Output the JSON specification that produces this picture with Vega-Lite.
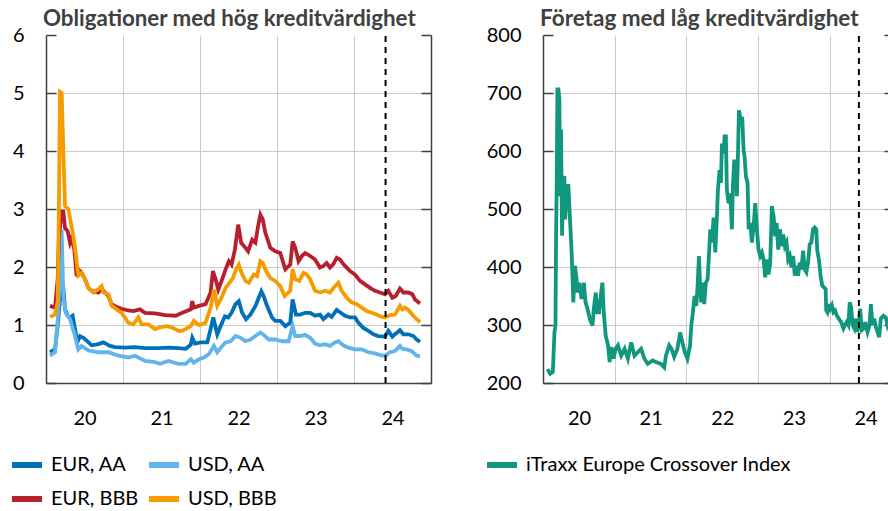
{
  "$schema": "https://vega.github.io/schema/vega-lite/v6.json",
  "padding": {"left": 9, "top": 7, "right": 0, "bottom": 0},
  "spacing": 52,
  "config": {
    "view": {"stroke": null},
    "font": "Lato",
    "axis": {"labelFont": "Lato", "labelFontSize": 20, "labelColor": "#000000", "domainColor": "#404040", "domainWidth": 1.5, "tickColor": "#404040", "tickWidth": 1.5, "gridColor": "#cbcbcb", "gridWidth": 1, "title": null},
    "legend": {"labelFont": "Lato", "labelFontSize": 20, "labelColor": "#000000", "labelLimit": 500, "symbolType": "stroke", "symbolStrokeWidth": 6, "symbolSize": 900, "rowPadding": 4, "columnPadding": -2, "labelOffset": 6}
  },
  "datasets": {
    "hi": [
      {"t":2020.052,"s":"EUR, AA","v":0.53},{"t":2020.117,"s":"EUR, AA","v":0.58},{"t":2020.16,"s":"EUR, AA","v":1.1},{"t":2020.195,"s":"EUR, AA","v":1.64},{"t":2020.225,"s":"EUR, AA","v":1.64},{"t":2020.247,"s":"EUR, AA","v":1.27},{"t":2020.281,"s":"EUR, AA","v":1.16},{"t":2020.312,"s":"EUR, AA","v":1.13},{"t":2020.346,"s":"EUR, AA","v":1.16},{"t":2020.377,"s":"EUR, AA","v":0.93},{"t":2020.407,"s":"EUR, AA","v":0.7},{"t":2020.442,"s":"EUR, AA","v":0.81},{"t":2020.485,"s":"EUR, AA","v":0.78},{"t":2020.528,"s":"EUR, AA","v":0.73},{"t":2020.593,"s":"EUR, AA","v":0.65},{"t":2020.68,"s":"EUR, AA","v":0.67},{"t":2020.745,"s":"EUR, AA","v":0.7},{"t":2020.788,"s":"EUR, AA","v":0.67},{"t":2020.831,"s":"EUR, AA","v":0.64},{"t":2020.896,"s":"EUR, AA","v":0.62},{"t":2021.026,"s":"EUR, AA","v":0.61},{"t":2021.156,"s":"EUR, AA","v":0.62},{"t":2021.286,"s":"EUR, AA","v":0.6},{"t":2021.459,"s":"EUR, AA","v":0.6},{"t":2021.589,"s":"EUR, AA","v":0.61},{"t":2021.719,"s":"EUR, AA","v":0.6},{"t":2021.815,"s":"EUR, AA","v":0.59},{"t":2021.88,"s":"EUR, AA","v":0.66},{"t":2021.9,"s":"EUR, AA","v":0.78},{"t":2021.935,"s":"EUR, AA","v":0.68},{"t":2022.009,"s":"EUR, AA","v":0.7},{"t":2022.095,"s":"EUR, AA","v":0.7},{"t":2022.138,"s":"EUR, AA","v":0.93},{"t":2022.172,"s":"EUR, AA","v":1.13},{"t":2022.224,"s":"EUR, AA","v":0.84},{"t":2022.267,"s":"EUR, AA","v":0.98},{"t":2022.323,"s":"EUR, AA","v":1.15},{"t":2022.366,"s":"EUR, AA","v":1.13},{"t":2022.41,"s":"EUR, AA","v":1.21},{"t":2022.461,"s":"EUR, AA","v":1.36},{"t":2022.504,"s":"EUR, AA","v":1.41},{"t":2022.547,"s":"EUR, AA","v":1.21},{"t":2022.599,"s":"EUR, AA","v":1.1},{"t":2022.655,"s":"EUR, AA","v":1.18},{"t":2022.72,"s":"EUR, AA","v":1.33},{"t":2022.754,"s":"EUR, AA","v":1.44},{"t":2022.797,"s":"EUR, AA","v":1.58},{"t":2022.828,"s":"EUR, AA","v":1.49},{"t":2022.871,"s":"EUR, AA","v":1.33},{"t":2022.935,"s":"EUR, AA","v":1.13},{"t":2022.978,"s":"EUR, AA","v":1.07},{"t":2023.043,"s":"EUR, AA","v":1.07},{"t":2023.108,"s":"EUR, AA","v":0.98},{"t":2023.172,"s":"EUR, AA","v":1.04},{"t":2023.203,"s":"EUR, AA","v":1.44},{"t":2023.246,"s":"EUR, AA","v":1.18},{"t":2023.302,"s":"EUR, AA","v":1.18},{"t":2023.366,"s":"EUR, AA","v":1.21},{"t":2023.431,"s":"EUR, AA","v":1.21},{"t":2023.494,"s":"EUR, AA","v":1.16},{"t":2023.558,"s":"EUR, AA","v":1.18},{"t":2023.602,"s":"EUR, AA","v":1.1},{"t":2023.667,"s":"EUR, AA","v":1.18},{"t":2023.71,"s":"EUR, AA","v":1.14},{"t":2023.775,"s":"EUR, AA","v":1.26},{"t":2023.818,"s":"EUR, AA","v":1.22},{"t":2023.883,"s":"EUR, AA","v":1.16},{"t":2023.948,"s":"EUR, AA","v":1.13},{"t":2024.013,"s":"EUR, AA","v":1.13},{"t":2024.056,"s":"EUR, AA","v":1.04},{"t":2024.121,"s":"EUR, AA","v":0.95},{"t":2024.186,"s":"EUR, AA","v":0.9},{"t":2024.251,"s":"EUR, AA","v":0.84},{"t":2024.316,"s":"EUR, AA","v":0.81},{"t":2024.403,"s":"EUR, AA","v":0.8},{"t":2024.446,"s":"EUR, AA","v":0.9},{"t":2024.498,"s":"EUR, AA","v":0.8},{"t":2024.532,"s":"EUR, AA","v":0.84},{"t":2024.597,"s":"EUR, AA","v":0.91},{"t":2024.641,"s":"EUR, AA","v":0.84},{"t":2024.706,"s":"EUR, AA","v":0.84},{"t":2024.771,"s":"EUR, AA","v":0.81},{"t":2024.814,"s":"EUR, AA","v":0.75},{"t":2024.857,"s":"EUR, AA","v":0.71},

      {"t":2020.052,"s":"USD, AA","v":0.47},{"t":2020.117,"s":"USD, AA","v":0.53},{"t":2020.16,"s":"USD, AA","v":1.21},{"t":2020.182,"s":"USD, AA","v":2.0},{"t":2020.2035,"s":"USD, AA","v":2.64},{"t":2020.225,"s":"USD, AA","v":1.5},{"t":2020.255,"s":"USD, AA","v":1.21},{"t":2020.312,"s":"USD, AA","v":1.1},{"t":2020.377,"s":"USD, AA","v":0.81},{"t":2020.42,"s":"USD, AA","v":0.58},{"t":2020.463,"s":"USD, AA","v":0.64},{"t":2020.55,"s":"USD, AA","v":0.56},{"t":2020.68,"s":"USD, AA","v":0.53},{"t":2020.81,"s":"USD, AA","v":0.53},{"t":2020.94,"s":"USD, AA","v":0.47},{"t":2021.069,"s":"USD, AA","v":0.44},{"t":2021.156,"s":"USD, AA","v":0.47},{"t":2021.286,"s":"USD, AA","v":0.38},{"t":2021.416,"s":"USD, AA","v":0.36},{"t":2021.48,"s":"USD, AA","v":0.33},{"t":2021.589,"s":"USD, AA","v":0.38},{"t":2021.719,"s":"USD, AA","v":0.33},{"t":2021.815,"s":"USD, AA","v":0.33},{"t":2021.88,"s":"USD, AA","v":0.41},{"t":2021.92,"s":"USD, AA","v":0.35},{"t":2021.987,"s":"USD, AA","v":0.41},{"t":2022.05,"s":"USD, AA","v":0.44},{"t":2022.116,"s":"USD, AA","v":0.5},{"t":2022.181,"s":"USD, AA","v":0.64},{"t":2022.224,"s":"USD, AA","v":0.53},{"t":2022.289,"s":"USD, AA","v":0.64},{"t":2022.332,"s":"USD, AA","v":0.7},{"t":2022.397,"s":"USD, AA","v":0.72},{"t":2022.461,"s":"USD, AA","v":0.81},{"t":2022.526,"s":"USD, AA","v":0.78},{"t":2022.59,"s":"USD, AA","v":0.72},{"t":2022.655,"s":"USD, AA","v":0.75},{"t":2022.72,"s":"USD, AA","v":0.81},{"t":2022.784,"s":"USD, AA","v":0.87},{"t":2022.828,"s":"USD, AA","v":0.83},{"t":2022.892,"s":"USD, AA","v":0.75},{"t":2022.978,"s":"USD, AA","v":0.75},{"t":2023.065,"s":"USD, AA","v":0.72},{"t":2023.151,"s":"USD, AA","v":0.72},{"t":2023.203,"s":"USD, AA","v":0.98},{"t":2023.237,"s":"USD, AA","v":0.81},{"t":2023.302,"s":"USD, AA","v":0.81},{"t":2023.366,"s":"USD, AA","v":0.83},{"t":2023.431,"s":"USD, AA","v":0.78},{"t":2023.494,"s":"USD, AA","v":0.68},{"t":2023.558,"s":"USD, AA","v":0.65},{"t":2023.623,"s":"USD, AA","v":0.67},{"t":2023.688,"s":"USD, AA","v":0.64},{"t":2023.753,"s":"USD, AA","v":0.7},{"t":2023.797,"s":"USD, AA","v":0.72},{"t":2023.861,"s":"USD, AA","v":0.65},{"t":2023.926,"s":"USD, AA","v":0.61},{"t":2024.013,"s":"USD, AA","v":0.58},{"t":2024.1,"s":"USD, AA","v":0.58},{"t":2024.186,"s":"USD, AA","v":0.53},{"t":2024.273,"s":"USD, AA","v":0.51},{"t":2024.338,"s":"USD, AA","v":0.48},{"t":2024.403,"s":"USD, AA","v":0.47},{"t":2024.468,"s":"USD, AA","v":0.53},{"t":2024.532,"s":"USD, AA","v":0.55},{"t":2024.597,"s":"USD, AA","v":0.64},{"t":2024.628,"s":"USD, AA","v":0.59},{"t":2024.684,"s":"USD, AA","v":0.58},{"t":2024.749,"s":"USD, AA","v":0.55},{"t":2024.814,"s":"USD, AA","v":0.47},{"t":2024.857,"s":"USD, AA","v":0.46},

      {"t":2020.052,"s":"EUR, BBB","v":1.33},{"t":2020.117,"s":"EUR, BBB","v":1.3},{"t":2020.152,"s":"EUR, BBB","v":1.79},{"t":2020.169,"s":"EUR, BBB","v":2.53},{"t":2020.2035,"s":"EUR, BBB","v":2.96},{"t":2020.225,"s":"EUR, BBB","v":2.96},{"t":2020.247,"s":"EUR, BBB","v":2.67},{"t":2020.281,"s":"EUR, BBB","v":2.62},{"t":2020.312,"s":"EUR, BBB","v":2.42},{"t":2020.333,"s":"EUR, BBB","v":2.5},{"t":2020.368,"s":"EUR, BBB","v":2.3},{"t":2020.398,"s":"EUR, BBB","v":1.84},{"t":2020.42,"s":"EUR, BBB","v":1.96},{"t":2020.463,"s":"EUR, BBB","v":1.9},{"t":2020.506,"s":"EUR, BBB","v":1.79},{"t":2020.55,"s":"EUR, BBB","v":1.64},{"t":2020.593,"s":"EUR, BBB","v":1.59},{"t":2020.68,"s":"EUR, BBB","v":1.56},{"t":2020.723,"s":"EUR, BBB","v":1.62},{"t":2020.766,"s":"EUR, BBB","v":1.56},{"t":2020.81,"s":"EUR, BBB","v":1.5},{"t":2020.853,"s":"EUR, BBB","v":1.36},{"t":2020.918,"s":"EUR, BBB","v":1.31},{"t":2020.983,"s":"EUR, BBB","v":1.28},{"t":2021.069,"s":"EUR, BBB","v":1.25},{"t":2021.134,"s":"EUR, BBB","v":1.24},{"t":2021.22,"s":"EUR, BBB","v":1.27},{"t":2021.286,"s":"EUR, BBB","v":1.21},{"t":2021.416,"s":"EUR, BBB","v":1.2},{"t":2021.545,"s":"EUR, BBB","v":1.17},{"t":2021.685,"s":"EUR, BBB","v":1.16},{"t":2021.77,"s":"EUR, BBB","v":1.21},{"t":2021.88,"s":"EUR, BBB","v":1.27},{"t":2021.9,"s":"EUR, BBB","v":1.41},{"t":2021.92,"s":"EUR, BBB","v":1.3},{"t":2021.987,"s":"EUR, BBB","v":1.33},{"t":2022.073,"s":"EUR, BBB","v":1.36},{"t":2022.138,"s":"EUR, BBB","v":1.56},{"t":2022.168,"s":"EUR, BBB","v":1.93},{"t":2022.203,"s":"EUR, BBB","v":1.79},{"t":2022.237,"s":"EUR, BBB","v":1.61},{"t":2022.289,"s":"EUR, BBB","v":1.79},{"t":2022.332,"s":"EUR, BBB","v":1.96},{"t":2022.375,"s":"EUR, BBB","v":2.1},{"t":2022.41,"s":"EUR, BBB","v":2.04},{"t":2022.453,"s":"EUR, BBB","v":2.3},{"t":2022.496,"s":"EUR, BBB","v":2.73},{"t":2022.534,"s":"EUR, BBB","v":2.42},{"t":2022.59,"s":"EUR, BBB","v":2.33},{"t":2022.625,"s":"EUR, BBB","v":2.27},{"t":2022.677,"s":"EUR, BBB","v":2.47},{"t":2022.72,"s":"EUR, BBB","v":2.42},{"t":2022.754,"s":"EUR, BBB","v":2.7},{"t":2022.784,"s":"EUR, BBB","v":2.9},{"t":2022.815,"s":"EUR, BBB","v":2.82},{"t":2022.849,"s":"EUR, BBB","v":2.59},{"t":2022.914,"s":"EUR, BBB","v":2.33},{"t":2022.978,"s":"EUR, BBB","v":2.27},{"t":2023.043,"s":"EUR, BBB","v":2.24},{"t":2023.108,"s":"EUR, BBB","v":1.96},{"t":2023.172,"s":"EUR, BBB","v":2.04},{"t":2023.203,"s":"EUR, BBB","v":2.44},{"t":2023.237,"s":"EUR, BBB","v":2.33},{"t":2023.28,"s":"EUR, BBB","v":2.1},{"t":2023.323,"s":"EUR, BBB","v":2.19},{"t":2023.366,"s":"EUR, BBB","v":2.24},{"t":2023.431,"s":"EUR, BBB","v":2.19},{"t":2023.494,"s":"EUR, BBB","v":2.13},{"t":2023.558,"s":"EUR, BBB","v":1.99},{"t":2023.602,"s":"EUR, BBB","v":2.02},{"t":2023.645,"s":"EUR, BBB","v":2.07},{"t":2023.688,"s":"EUR, BBB","v":1.99},{"t":2023.732,"s":"EUR, BBB","v":2.05},{"t":2023.775,"s":"EUR, BBB","v":2.16},{"t":2023.818,"s":"EUR, BBB","v":2.13},{"t":2023.861,"s":"EUR, BBB","v":2.05},{"t":2023.905,"s":"EUR, BBB","v":1.99},{"t":2023.948,"s":"EUR, BBB","v":1.93},{"t":2024.013,"s":"EUR, BBB","v":1.87},{"t":2024.078,"s":"EUR, BBB","v":1.76},{"t":2024.143,"s":"EUR, BBB","v":1.7},{"t":2024.208,"s":"EUR, BBB","v":1.64},{"t":2024.273,"s":"EUR, BBB","v":1.59},{"t":2024.338,"s":"EUR, BBB","v":1.56},{"t":2024.403,"s":"EUR, BBB","v":1.53},{"t":2024.446,"s":"EUR, BBB","v":1.59},{"t":2024.498,"s":"EUR, BBB","v":1.47},{"t":2024.541,"s":"EUR, BBB","v":1.5},{"t":2024.597,"s":"EUR, BBB","v":1.63},{"t":2024.641,"s":"EUR, BBB","v":1.56},{"t":2024.706,"s":"EUR, BBB","v":1.56},{"t":2024.758,"s":"EUR, BBB","v":1.53},{"t":2024.792,"s":"EUR, BBB","v":1.44},{"t":2024.857,"s":"EUR, BBB","v":1.37},

      {"t":2020.052,"s":"USD, BBB","v":1.14},{"t":2020.117,"s":"USD, BBB","v":1.18},{"t":2020.152,"s":"USD, BBB","v":1.4},{"t":2020.169,"s":"USD, BBB","v":3.2},{"t":2020.182,"s":"USD, BBB","v":5.02},{"t":2020.2035,"s":"USD, BBB","v":5.0},{"t":2020.225,"s":"USD, BBB","v":4.0},{"t":2020.247,"s":"USD, BBB","v":3.05},{"t":2020.29,"s":"USD, BBB","v":3.0},{"t":2020.325,"s":"USD, BBB","v":2.75},{"t":2020.355,"s":"USD, BBB","v":2.53},{"t":2020.385,"s":"USD, BBB","v":2.25},{"t":2020.42,"s":"USD, BBB","v":1.85},{"t":2020.463,"s":"USD, BBB","v":1.9},{"t":2020.506,"s":"USD, BBB","v":1.78},{"t":2020.55,"s":"USD, BBB","v":1.64},{"t":2020.615,"s":"USD, BBB","v":1.56},{"t":2020.68,"s":"USD, BBB","v":1.62},{"t":2020.723,"s":"USD, BBB","v":1.67},{"t":2020.745,"s":"USD, BBB","v":1.56},{"t":2020.81,"s":"USD, BBB","v":1.53},{"t":2020.853,"s":"USD, BBB","v":1.33},{"t":2020.918,"s":"USD, BBB","v":1.27},{"t":2020.983,"s":"USD, BBB","v":1.21},{"t":2021.069,"s":"USD, BBB","v":1.04},{"t":2021.134,"s":"USD, BBB","v":1.01},{"t":2021.199,"s":"USD, BBB","v":1.13},{"t":2021.242,"s":"USD, BBB","v":1.01},{"t":2021.329,"s":"USD, BBB","v":1.01},{"t":2021.416,"s":"USD, BBB","v":0.93},{"t":2021.48,"s":"USD, BBB","v":0.96},{"t":2021.567,"s":"USD, BBB","v":0.98},{"t":2021.632,"s":"USD, BBB","v":0.96},{"t":2021.719,"s":"USD, BBB","v":0.9},{"t":2021.77,"s":"USD, BBB","v":0.9},{"t":2021.88,"s":"USD, BBB","v":0.98},{"t":2021.92,"s":"USD, BBB","v":1.07},{"t":2021.987,"s":"USD, BBB","v":1.0},{"t":2022.073,"s":"USD, BBB","v":1.04},{"t":2022.138,"s":"USD, BBB","v":1.3},{"t":2022.181,"s":"USD, BBB","v":1.61},{"t":2022.224,"s":"USD, BBB","v":1.33},{"t":2022.289,"s":"USD, BBB","v":1.5},{"t":2022.332,"s":"USD, BBB","v":1.64},{"t":2022.384,"s":"USD, BBB","v":1.73},{"t":2022.427,"s":"USD, BBB","v":1.81},{"t":2022.47,"s":"USD, BBB","v":1.96},{"t":2022.504,"s":"USD, BBB","v":2.04},{"t":2022.539,"s":"USD, BBB","v":1.9},{"t":2022.59,"s":"USD, BBB","v":1.76},{"t":2022.634,"s":"USD, BBB","v":1.73},{"t":2022.698,"s":"USD, BBB","v":1.87},{"t":2022.741,"s":"USD, BBB","v":1.84},{"t":2022.784,"s":"USD, BBB","v":2.1},{"t":2022.815,"s":"USD, BBB","v":2.07},{"t":2022.858,"s":"USD, BBB","v":1.93},{"t":2022.914,"s":"USD, BBB","v":1.81},{"t":2022.978,"s":"USD, BBB","v":1.76},{"t":2023.043,"s":"USD, BBB","v":1.67},{"t":2023.099,"s":"USD, BBB","v":1.5},{"t":2023.172,"s":"USD, BBB","v":1.59},{"t":2023.203,"s":"USD, BBB","v":1.96},{"t":2023.237,"s":"USD, BBB","v":1.79},{"t":2023.289,"s":"USD, BBB","v":1.76},{"t":2023.345,"s":"USD, BBB","v":1.9},{"t":2023.388,"s":"USD, BBB","v":1.87},{"t":2023.431,"s":"USD, BBB","v":1.79},{"t":2023.494,"s":"USD, BBB","v":1.59},{"t":2023.558,"s":"USD, BBB","v":1.56},{"t":2023.623,"s":"USD, BBB","v":1.59},{"t":2023.688,"s":"USD, BBB","v":1.56},{"t":2023.753,"s":"USD, BBB","v":1.67},{"t":2023.797,"s":"USD, BBB","v":1.73},{"t":2023.84,"s":"USD, BBB","v":1.59},{"t":2023.905,"s":"USD, BBB","v":1.47},{"t":2023.97,"s":"USD, BBB","v":1.39},{"t":2024.035,"s":"USD, BBB","v":1.36},{"t":2024.1,"s":"USD, BBB","v":1.3},{"t":2024.165,"s":"USD, BBB","v":1.24},{"t":2024.229,"s":"USD, BBB","v":1.21},{"t":2024.294,"s":"USD, BBB","v":1.18},{"t":2024.359,"s":"USD, BBB","v":1.14},{"t":2024.403,"s":"USD, BBB","v":1.13},{"t":2024.468,"s":"USD, BBB","v":1.17},{"t":2024.532,"s":"USD, BBB","v":1.18},{"t":2024.597,"s":"USD, BBB","v":1.33},{"t":2024.628,"s":"USD, BBB","v":1.27},{"t":2024.662,"s":"USD, BBB","v":1.3},{"t":2024.706,"s":"USD, BBB","v":1.26},{"t":2024.771,"s":"USD, BBB","v":1.16},{"t":2024.814,"s":"USD, BBB","v":1.1},{"t":2024.857,"s":"USD, BBB","v":1.05}
    ],
    "lo": [
      {"t":2020.063,"s":"iTraxx Europe Crossover Index","v":224},{"t":2020.1,"s":"iTraxx Europe Crossover Index","v":216},{"t":2020.137,"s":"iTraxx Europe Crossover Index","v":219},{"t":2020.16,"s":"iTraxx Europe Crossover Index","v":287},{"t":2020.174,"s":"iTraxx Europe Crossover Index","v":299},{"t":2020.183,"s":"iTraxx Europe Crossover Index","v":459},{"t":2020.192,"s":"iTraxx Europe Crossover Index","v":551},{"t":2020.201,"s":"iTraxx Europe Crossover Index","v":706},{"t":2020.215,"s":"iTraxx Europe Crossover Index","v":706},{"t":2020.229,"s":"iTraxx Europe Crossover Index","v":689},{"t":2020.238,"s":"iTraxx Europe Crossover Index","v":522},{"t":2020.252,"s":"iTraxx Europe Crossover Index","v":637},{"t":2020.266,"s":"iTraxx Europe Crossover Index","v":454},{"t":2020.284,"s":"iTraxx Europe Crossover Index","v":551},{"t":2020.298,"s":"iTraxx Europe Crossover Index","v":557},{"t":2020.31,"s":"iTraxx Europe Crossover Index","v":482},{"t":2020.331,"s":"iTraxx Europe Crossover Index","v":540},{"t":2020.354,"s":"iTraxx Europe Crossover Index","v":540},{"t":2020.377,"s":"iTraxx Europe Crossover Index","v":482},{"t":2020.4,"s":"iTraxx Europe Crossover Index","v":425},{"t":2020.423,"s":"iTraxx Europe Crossover Index","v":339},{"t":2020.446,"s":"iTraxx Europe Crossover Index","v":402},{"t":2020.469,"s":"iTraxx Europe Crossover Index","v":379},{"t":2020.483,"s":"iTraxx Europe Crossover Index","v":356},{"t":2020.506,"s":"iTraxx Europe Crossover Index","v":373},{"t":2020.538,"s":"iTraxx Europe Crossover Index","v":345},{"t":2020.571,"s":"iTraxx Europe Crossover Index","v":373},{"t":2020.594,"s":"iTraxx Europe Crossover Index","v":339},{"t":2020.621,"s":"iTraxx Europe Crossover Index","v":328},{"t":2020.654,"s":"iTraxx Europe Crossover Index","v":310},{"t":2020.691,"s":"iTraxx Europe Crossover Index","v":299},{"t":2020.709,"s":"iTraxx Europe Crossover Index","v":328},{"t":2020.737,"s":"iTraxx Europe Crossover Index","v":356},{"t":2020.755,"s":"iTraxx Europe Crossover Index","v":322},{"t":2020.783,"s":"iTraxx Europe Crossover Index","v":322},{"t":2020.801,"s":"iTraxx Europe Crossover Index","v":345},{"t":2020.829,"s":"iTraxx Europe Crossover Index","v":373},{"t":2020.848,"s":"iTraxx Europe Crossover Index","v":322},{"t":2020.875,"s":"iTraxx Europe Crossover Index","v":282},{"t":2020.908,"s":"iTraxx Europe Crossover Index","v":265},{"t":2020.931,"s":"iTraxx Europe Crossover Index","v":236},{"t":2020.954,"s":"iTraxx Europe Crossover Index","v":262},{"t":2020.986,"s":"iTraxx Europe Crossover Index","v":242},{"t":2021.014,"s":"iTraxx Europe Crossover Index","v":259},{"t":2021.046,"s":"iTraxx Europe Crossover Index","v":265},{"t":2021.092,"s":"iTraxx Europe Crossover Index","v":247},{"t":2021.139,"s":"iTraxx Europe Crossover Index","v":259},{"t":2021.185,"s":"iTraxx Europe Crossover Index","v":242},{"t":2021.231,"s":"iTraxx Europe Crossover Index","v":270},{"t":2021.277,"s":"iTraxx Europe Crossover Index","v":247},{"t":2021.323,"s":"iTraxx Europe Crossover Index","v":253},{"t":2021.369,"s":"iTraxx Europe Crossover Index","v":259},{"t":2021.416,"s":"iTraxx Europe Crossover Index","v":242},{"t":2021.462,"s":"iTraxx Europe Crossover Index","v":233},{"t":2021.531,"s":"iTraxx Europe Crossover Index","v":239},{"t":2021.577,"s":"iTraxx Europe Crossover Index","v":236},{"t":2021.646,"s":"iTraxx Europe Crossover Index","v":233},{"t":2021.693,"s":"iTraxx Europe Crossover Index","v":227},{"t":2021.716,"s":"iTraxx Europe Crossover Index","v":247},{"t":2021.762,"s":"iTraxx Europe Crossover Index","v":265},{"t":2021.794,"s":"iTraxx Europe Crossover Index","v":259},{"t":2021.831,"s":"iTraxx Europe Crossover Index","v":245},{"t":2021.877,"s":"iTraxx Europe Crossover Index","v":259},{"t":2021.914,"s":"iTraxx Europe Crossover Index","v":287},{"t":2021.946,"s":"iTraxx Europe Crossover Index","v":270},{"t":2021.979,"s":"iTraxx Europe Crossover Index","v":253},{"t":2022.016,"s":"iTraxx Europe Crossover Index","v":242},{"t":2022.053,"s":"iTraxx Europe Crossover Index","v":265},{"t":2022.07,"s":"iTraxx Europe Crossover Index","v":299},{"t":2022.093,"s":"iTraxx Europe Crossover Index","v":322},{"t":2022.116,"s":"iTraxx Europe Crossover Index","v":350},{"t":2022.14,"s":"iTraxx Europe Crossover Index","v":333},{"t":2022.158,"s":"iTraxx Europe Crossover Index","v":367},{"t":2022.177,"s":"iTraxx Europe Crossover Index","v":419},{"t":2022.195,"s":"iTraxx Europe Crossover Index","v":362},{"t":2022.209,"s":"iTraxx Europe Crossover Index","v":339},{"t":2022.233,"s":"iTraxx Europe Crossover Index","v":373},{"t":2022.251,"s":"iTraxx Europe Crossover Index","v":336},{"t":2022.274,"s":"iTraxx Europe Crossover Index","v":373},{"t":2022.298,"s":"iTraxx Europe Crossover Index","v":379},{"t":2022.321,"s":"iTraxx Europe Crossover Index","v":430},{"t":2022.335,"s":"iTraxx Europe Crossover Index","v":465},{"t":2022.358,"s":"iTraxx Europe Crossover Index","v":442},{"t":2022.381,"s":"iTraxx Europe Crossover Index","v":485},{"t":2022.405,"s":"iTraxx Europe Crossover Index","v":425},{"t":2022.428,"s":"iTraxx Europe Crossover Index","v":487},{"t":2022.442,"s":"iTraxx Europe Crossover Index","v":533},{"t":2022.465,"s":"iTraxx Europe Crossover Index","v":567},{"t":2022.484,"s":"iTraxx Europe Crossover Index","v":545},{"t":2022.498,"s":"iTraxx Europe Crossover Index","v":613},{"t":2022.521,"s":"iTraxx Europe Crossover Index","v":596},{"t":2022.535,"s":"iTraxx Europe Crossover Index","v":625},{"t":2022.553,"s":"iTraxx Europe Crossover Index","v":625},{"t":2022.567,"s":"iTraxx Europe Crossover Index","v":533},{"t":2022.591,"s":"iTraxx Europe Crossover Index","v":510},{"t":2022.605,"s":"iTraxx Europe Crossover Index","v":527},{"t":2022.623,"s":"iTraxx Europe Crossover Index","v":505},{"t":2022.637,"s":"iTraxx Europe Crossover Index","v":465},{"t":2022.651,"s":"iTraxx Europe Crossover Index","v":539},{"t":2022.67,"s":"iTraxx Europe Crossover Index","v":585},{"t":2022.693,"s":"iTraxx Europe Crossover Index","v":567},{"t":2022.707,"s":"iTraxx Europe Crossover Index","v":522},{"t":2022.721,"s":"iTraxx Europe Crossover Index","v":590},{"t":2022.735,"s":"iTraxx Europe Crossover Index","v":670},{"t":2022.753,"s":"iTraxx Europe Crossover Index","v":659},{"t":2022.767,"s":"iTraxx Europe Crossover Index","v":642},{"t":2022.781,"s":"iTraxx Europe Crossover Index","v":659},{"t":2022.8,"s":"iTraxx Europe Crossover Index","v":602},{"t":2022.814,"s":"iTraxx Europe Crossover Index","v":590},{"t":2022.833,"s":"iTraxx Europe Crossover Index","v":556},{"t":2022.856,"s":"iTraxx Europe Crossover Index","v":545},{"t":2022.87,"s":"iTraxx Europe Crossover Index","v":465},{"t":2022.893,"s":"iTraxx Europe Crossover Index","v":476},{"t":2022.916,"s":"iTraxx Europe Crossover Index","v":442},{"t":2022.94,"s":"iTraxx Europe Crossover Index","v":470},{"t":2022.963,"s":"iTraxx Europe Crossover Index","v":510},{"t":2022.986,"s":"iTraxx Europe Crossover Index","v":465},{"t":2023.009,"s":"iTraxx Europe Crossover Index","v":430},{"t":2023.033,"s":"iTraxx Europe Crossover Index","v":419},{"t":2023.056,"s":"iTraxx Europe Crossover Index","v":425},{"t":2023.079,"s":"iTraxx Europe Crossover Index","v":413},{"t":2023.102,"s":"iTraxx Europe Crossover Index","v":382},{"t":2023.126,"s":"iTraxx Europe Crossover Index","v":413},{"t":2023.149,"s":"iTraxx Europe Crossover Index","v":387},{"t":2023.172,"s":"iTraxx Europe Crossover Index","v":407},{"t":2023.195,"s":"iTraxx Europe Crossover Index","v":505},{"t":2023.219,"s":"iTraxx Europe Crossover Index","v":487},{"t":2023.242,"s":"iTraxx Europe Crossover Index","v":453},{"t":2023.261,"s":"iTraxx Europe Crossover Index","v":476},{"t":2023.284,"s":"iTraxx Europe Crossover Index","v":430},{"t":2023.307,"s":"iTraxx Europe Crossover Index","v":465},{"t":2023.331,"s":"iTraxx Europe Crossover Index","v":436},{"t":2023.354,"s":"iTraxx Europe Crossover Index","v":456},{"t":2023.377,"s":"iTraxx Europe Crossover Index","v":436},{"t":2023.4,"s":"iTraxx Europe Crossover Index","v":442},{"t":2023.423,"s":"iTraxx Europe Crossover Index","v":413},{"t":2023.446,"s":"iTraxx Europe Crossover Index","v":419},{"t":2023.469,"s":"iTraxx Europe Crossover Index","v":399},{"t":2023.492,"s":"iTraxx Europe Crossover Index","v":419},{"t":2023.515,"s":"iTraxx Europe Crossover Index","v":385},{"t":2023.538,"s":"iTraxx Europe Crossover Index","v":402},{"t":2023.561,"s":"iTraxx Europe Crossover Index","v":385},{"t":2023.584,"s":"iTraxx Europe Crossover Index","v":408},{"t":2023.608,"s":"iTraxx Europe Crossover Index","v":396},{"t":2023.631,"s":"iTraxx Europe Crossover Index","v":428},{"t":2023.654,"s":"iTraxx Europe Crossover Index","v":396},{"t":2023.677,"s":"iTraxx Europe Crossover Index","v":391},{"t":2023.7,"s":"iTraxx Europe Crossover Index","v":408},{"t":2023.723,"s":"iTraxx Europe Crossover Index","v":439},{"t":2023.746,"s":"iTraxx Europe Crossover Index","v":442},{"t":2023.769,"s":"iTraxx Europe Crossover Index","v":465},{"t":2023.792,"s":"iTraxx Europe Crossover Index","v":468},{"t":2023.815,"s":"iTraxx Europe Crossover Index","v":465},{"t":2023.829,"s":"iTraxx Europe Crossover Index","v":428},{"t":2023.852,"s":"iTraxx Europe Crossover Index","v":413},{"t":2023.875,"s":"iTraxx Europe Crossover Index","v":385},{"t":2023.898,"s":"iTraxx Europe Crossover Index","v":368},{"t":2023.922,"s":"iTraxx Europe Crossover Index","v":365},{"t":2023.945,"s":"iTraxx Europe Crossover Index","v":362},{"t":2023.954,"s":"iTraxx Europe Crossover Index","v":325},{"t":2023.968,"s":"iTraxx Europe Crossover Index","v":322},{"t":2023.986,"s":"iTraxx Europe Crossover Index","v":336},{"t":2024.009,"s":"iTraxx Europe Crossover Index","v":328},{"t":2024.032,"s":"iTraxx Europe Crossover Index","v":334},{"t":2024.055,"s":"iTraxx Europe Crossover Index","v":322},{"t":2024.078,"s":"iTraxx Europe Crossover Index","v":325},{"t":2024.102,"s":"iTraxx Europe Crossover Index","v":316},{"t":2024.129,"s":"iTraxx Europe Crossover Index","v":311},{"t":2024.162,"s":"iTraxx Europe Crossover Index","v":305},{"t":2024.194,"s":"iTraxx Europe Crossover Index","v":294},{"t":2024.217,"s":"iTraxx Europe Crossover Index","v":300},{"t":2024.24,"s":"iTraxx Europe Crossover Index","v":305},{"t":2024.263,"s":"iTraxx Europe Crossover Index","v":300},{"t":2024.282,"s":"iTraxx Europe Crossover Index","v":339},{"t":2024.3,"s":"iTraxx Europe Crossover Index","v":331},{"t":2024.323,"s":"iTraxx Europe Crossover Index","v":300},{"t":2024.346,"s":"iTraxx Europe Crossover Index","v":294},{"t":2024.369,"s":"iTraxx Europe Crossover Index","v":311},{"t":2024.383,"s":"iTraxx Europe Crossover Index","v":288},{"t":2024.406,"s":"iTraxx Europe Crossover Index","v":300},{"t":2024.429,"s":"iTraxx Europe Crossover Index","v":328},{"t":2024.448,"s":"iTraxx Europe Crossover Index","v":291},{"t":2024.476,"s":"iTraxx Europe Crossover Index","v":294},{"t":2024.499,"s":"iTraxx Europe Crossover Index","v":305},{"t":2024.531,"s":"iTraxx Europe Crossover Index","v":288},{"t":2024.559,"s":"iTraxx Europe Crossover Index","v":300},{"t":2024.577,"s":"iTraxx Europe Crossover Index","v":336},{"t":2024.6,"s":"iTraxx Europe Crossover Index","v":300},{"t":2024.623,"s":"iTraxx Europe Crossover Index","v":311},{"t":2024.646,"s":"iTraxx Europe Crossover Index","v":297},{"t":2024.669,"s":"iTraxx Europe Crossover Index","v":288},{"t":2024.693,"s":"iTraxx Europe Crossover Index","v":279},{"t":2024.716,"s":"iTraxx Europe Crossover Index","v":311},{"t":2024.753,"s":"iTraxx Europe Crossover Index","v":316},{"t":2024.785,"s":"iTraxx Europe Crossover Index","v":313},{"t":2024.808,"s":"iTraxx Europe Crossover Index","v":300},{"t":2024.831,"s":"iTraxx Europe Crossover Index","v":308},{"t":2024.854,"s":"iTraxx Europe Crossover Index","v":302},{"t":2024.877,"s":"iTraxx Europe Crossover Index","v":294},{"t":2024.895,"s":"iTraxx Europe Crossover Index","v":305}
    ],
    "mark": [{"t": 2024.41}]
  },
  "hconcat": [
    {
      "width": 385,
      "height": 348,
      "title": {"text": "Obligationer med hög kreditvärdighet", "anchor": "start", "frame": "group", "font": "Lato", "fontSize": 22.3, "fontWeight": "bold", "color": "#404040", "offset": -5, "dx": -3},
      "layer": [
        {
          "data": {"name": "hi"},
          "mark": {"type": "line", "strokeWidth": 3.8, "clip": true},
          "encoding": {
            "x": {"field": "t", "type": "quantitative", "scale": {"domain": [2020, 2025], "nice": false, "zero": false},
                  "axis": {"values": [2020, 2021, 2022, 2023, 2024], "labelExpr": "substring(toString(datum.value), 2, 4)", "labelOffset": 38.5, "ticks": false, "labelPadding": 25, "labelFlush": false, "labelOverlap": false, "labelBound": false, "grid": true}},
            "y": {"field": "v", "type": "quantitative", "scale": {"domain": [0, 6], "nice": false},
                  "axis": {"values": [0, 1, 2, 3, 4, 5, 6], "tickSize": -10, "labelPadding": 32, "grid": true, "gridOpacity": {"condition": {"test": "datum.value >= 6", "value": 0}, "value": 1}}},
            "color": {"field": "s", "type": "nominal",
                      "scale": {"domain": ["EUR, AA", "USD, AA", "EUR, BBB", "USD, BBB"], "range": ["#0070b8", "#62b4ec", "#b81f2e", "#f59c00"]},
                      "legend": {"title": null, "orient": "none", "legendX": -37, "legendY": 412, "columns": 2, "direction": "horizontal"}}
          }
        },
        {
          "data": {"name": "mark"},
          "mark": {"type": "rule", "strokeDash": [6, 5], "strokeWidth": 2, "color": "#000000"},
          "encoding": {
            "x": {"field": "t", "type": "quantitative"},
            "y": {"datum": 0, "type": "quantitative", "axis": {"orient": "right", "values": [0, 1, 2, 3, 4, 5, 6], "labels": false, "tickSize": -10, "grid": false}},
            "y2": {"datum": 6}
          }
        }
      ],
      "resolve": {"axis": {"y": "independent"}}
    },
    {
      "width": 351,
      "height": 348,
      "title": {"text": "Företag med låg kreditvärdighet", "anchor": "start", "frame": "group", "font": "Lato", "fontSize": 22.5, "fontWeight": "bold", "color": "#404040", "offset": -5, "dx": -3},
      "layer": [
        {
          "data": {"name": "lo"},
          "mark": {"type": "line", "strokeWidth": 3.8, "clip": true},
          "encoding": {
            "x": {"field": "t", "type": "quantitative", "scale": {"domain": [2020, 2024.9], "nice": false, "zero": false},
                  "axis": {"values": [2020, 2021, 2022, 2023, 2024], "labelExpr": "substring(toString(datum.value), 2, 4)", "labelOffset": 36, "ticks": false, "labelPadding": 25, "labelFlush": false, "labelOverlap": false, "labelBound": false, "grid": true}},
            "y": {"field": "v", "type": "quantitative", "scale": {"domain": [200, 800], "nice": false, "zero": false},
                  "axis": {"values": [200, 300, 400, 500, 600, 700, 800], "tickSize": -10, "labelPadding": 32, "grid": true, "gridOpacity": {"condition": {"test": "datum.value >= 800", "value": 0}, "value": 1}}},
            "color": {"field": "s", "type": "nominal",
                      "scale": {"domain": ["iTraxx Europe Crossover Index"], "range": ["#12977f"]},
                      "legend": {"title": null, "orient": "none", "legendX": -59, "legendY": 412}}
          }
        },
        {
          "data": {"name": "mark"},
          "mark": {"type": "rule", "strokeDash": [6, 5], "strokeWidth": 2, "color": "#000000"},
          "encoding": {
            "x": {"field": "t", "type": "quantitative"},
            "y": {"datum": 200, "type": "quantitative", "axis": {"orient": "right", "values": [200, 300, 400, 500, 600, 700, 800], "labels": false, "tickSize": -10, "grid": false}},
            "y2": {"datum": 800}
          }
        }
      ],
      "resolve": {"axis": {"y": "independent"}}
    }
  ],
  "resolve": {"scale": {"color": "independent", "x": "independent", "y": "independent"}}
}
